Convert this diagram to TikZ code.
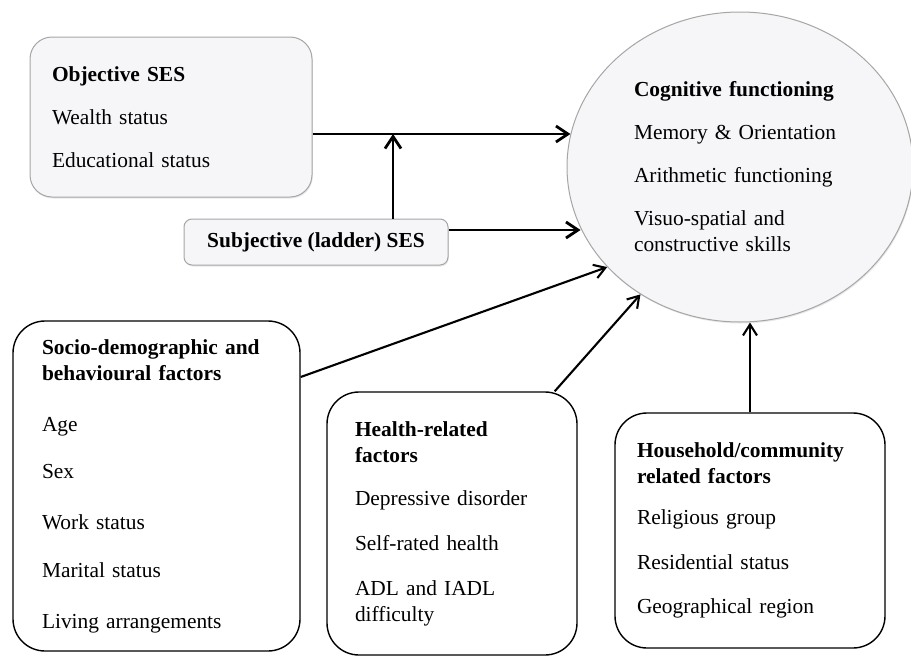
\documentclass[tikz,border=0pt]{standalone}
\usepackage{fontspec}
\setmainfont{Liberation Serif}
\usetikzlibrary{shapes.geometric,arrows.meta,shadows}
\definecolor{panel}{HTML}{F6F6F9}
\definecolor{rim}{HTML}{A6A6A6}
\tikzset{
  txt/.style={font=\fontsize{21.4}{26}\selectfont, align=left},
  sesbox/.style={txt, draw=rim, fill=panel, line width=1pt,
    drop shadow={opacity=0.18, shadow xshift=0.8pt, shadow yshift=-1.5pt}},
  factorbox/.style={txt, draw=black, line width=1.4pt, fill=white,
    rounded corners=32pt, inner ysep=4pt},
  link/.style={-{Straight Barb[length=12pt,width=16pt]}, line width=2.8pt},
  thinlink/.style={-{Straight Barb[length=11pt,width=14pt]}, line width=2.1pt}
}
\begin{document}
\begin{tikzpicture}[x=1pt,y=-1pt]
  \useasboundingbox (0,0) rectangle (911,656);
  \node[ellipse, sesbox, minimum width=346pt, minimum height=310pt, text width=212pt] (cog) at (740,167)
    {\textbf{Cognitive functioning}\\[17pt] Memory \& Orientation\\[17pt] Arithmetic functioning\\[17pt] Visuo-spatial and\\ constructive skills};
  \node[sesbox, rounded corners=22pt, minimum width=282pt, minimum height=160pt, text width=238pt, inner xsep=22pt] (obj) at (171,117)
    {\textbf{Objective SES}\\[17pt] Wealth status\\[17pt] Educational status};
  \node[sesbox, rounded corners=8pt, minimum width=264pt, minimum height=46pt] (subj) at (316,242)
    {\textbf{Subjective (ladder) SES}};
  \node[factorbox, minimum width=287pt, minimum height=330pt, text width=229pt, inner xsep=29pt] (socio) at (156.5,486)
    {\textbf{Socio-demographic and}\\ \textbf{behavioural factors}\\[25pt] Age\\[21pt] Sex\\[25pt] Work status\\[22pt] Marital status\\[25pt] Living arrangements};
  \node[factorbox, minimum width=250pt, minimum height=263pt, text width=194pt, inner xsep=28pt] (health) at (452,523.5)
    {\textbf{Health-related}\\ \textbf{factors}\\[17pt] Depressive disorder\\[19pt] Self-rated health\\[19pt] ADL and IADL\\ difficulty};
  \node[factorbox, minimum width=270pt, minimum height=235pt, text width=226pt, inner xsep=22pt] (house) at (750,530.5)
    {\textbf{Household/community}\\ \textbf{related factors}\\[15pt] Religious group\\[19pt] Residential status\\[18pt] Geographical region};
  \draw[link] ([yshift=-17pt]obj.east) coordinate (o1) -- (o1 -| cog.169);
  \draw[link] ([xshift=77pt]subj.north) coordinate (s1) -- (s1 |- o1);
  \draw[link] ([yshift=12pt]subj.east) coordinate (s2) -- (s2 -| cog.201);
  \draw[thinlink] ([yshift=109pt]socio.east) -- (cog.217);
  \draw[thinlink] ([xshift=-23pt]health.north east) -- (cog.232);
  \draw[thinlink] (house.north) -- (house.north |- cog.south);
\end{tikzpicture}
\end{document}
